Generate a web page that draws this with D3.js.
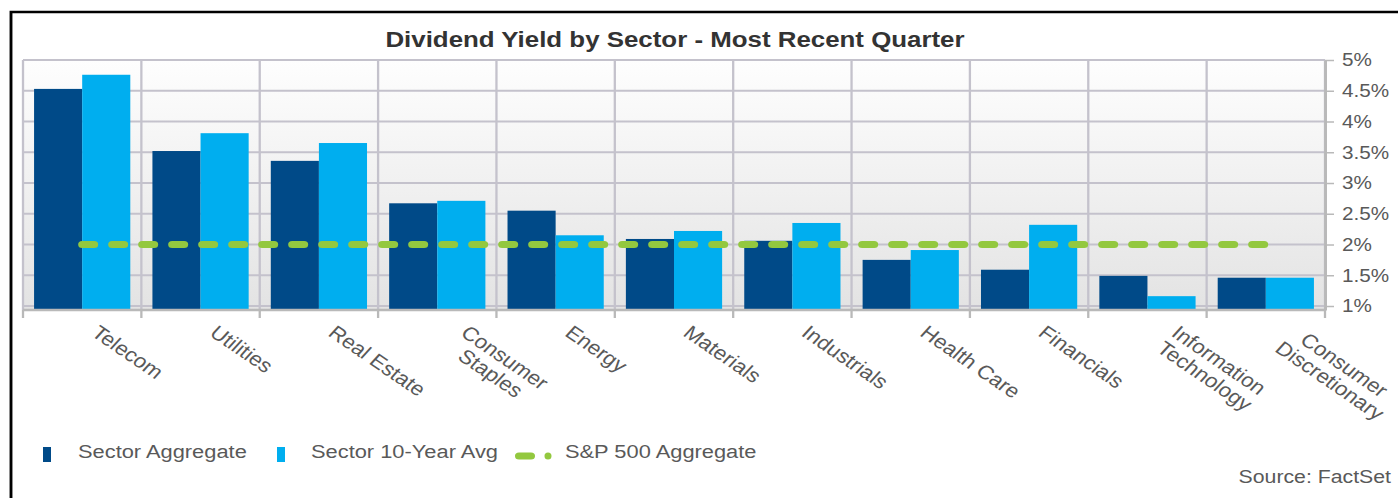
<!DOCTYPE html>
<html>
<head>
<meta charset="utf-8">
<script src="https://cdn.jsdelivr.net/npm/d3@7/dist/d3.min.js"></script>
<style>
  body { margin: 0; background: #fff; }
  svg { display: block; }
  text { font-family: "Liberation Sans", Arial, sans-serif; }
</style>
</head>
<body>
<div id="chart"></div>
<script>
// - data
const sectors = ['Telecom', 'Utilities', 'Real Estate', 'Consumer\nStaples', 'Energy', 'Materials',
  'Industrials', 'Health Care', 'Financials', 'Information\nTechnology', 'Consumer\nDiscretionary']
const sectorAggregate = [4.53, 3.52, 3.36, 2.67, 2.55, 2.09, 2.06, 1.75, 1.59, 1.49, 1.46]
const tenYearAvg = [4.76, 3.81, 3.65, 2.71, 2.15, 2.22, 2.35, 1.91, 2.32, 1.16, 1.46]
const sp500Aggregate = 2.0
const yTicks = [1, 1.5, 2, 2.5, 3, 3.5, 4, 4.5, 5]
const seriesNames = ['Sector Aggregate', 'Sector 10-Year Avg', 'S&P 500 Aggregate']

const colors = { agg: '#004a88', avg: '#00aeef', sp: '#93c83f', grid: '#c4c2cc', axis: '#b9b9b9', text: '#595959' }

// the original picture is stretched sideways, so draw in a narrower space and stretch it back
const sx = 1.15
const W = 1398, H = 498
const Wd = W / sx
const px = v => v / sx

const plot = { left: px(23), right: px(1325), top: 60, bottom: 310 }

const svg = d3.select('#chart')
  .append('svg')
  .attr('width', W)
  .attr('height', H)
  .attr('viewBox', `0 0 ${Wd} ${H}`)
  .attr('preserveAspectRatio', 'none')

const defs = svg.append('defs')
const grad = defs.append('linearGradient').attr('id', 'bg').attr('x1', 0).attr('y1', 0).attr('x2', 0).attr('y2', 1)
grad.append('stop').attr('offset', '0%').attr('stop-color', '#fefefe')
grad.append('stop').attr('offset', '100%').attr('stop-color', '#e3e3e3')

// outer frame
svg.append('rect')
  .attr('x', px(11)).attr('y', 12)
  .attr('width', Wd).attr('height', H)
  .attr('fill', 'none').attr('stroke', '#000').attr('stroke-width', 2.5)

// title
svg.append('text')
  .attr('x', px(675)).attr('y', 47)
  .attr('text-anchor', 'middle')
  .attr('font-size', 22.5).attr('font-weight', 'bold').attr('fill', '#333')
  .text('Dividend Yield by Sector - Most Recent Quarter')

// - scales
const x0 = d3.scaleBand().domain(sectors).range([plot.left, plot.right]).padding(0)
const x1 = d3.scaleBand().domain(['agg', 'avg']).range([0, x0.bandwidth()]).paddingInner(0).paddingOuter(0.23)
const y = d3.scaleLinear().domain([0.935, 5]).range([plot.bottom, plot.top])

// background + grid
svg.append('rect')
  .attr('x', plot.left).attr('y', plot.top)
  .attr('width', plot.right - plot.left).attr('height', plot.bottom - plot.top)
  .attr('fill', 'url(#bg)')

const bounds = d3.range(sectors.length + 1).map(i => plot.left + i * x0.step())

const grid = svg.append('g')
grid.selectAll('line.h').data(yTicks).join('line')
  .attr('class', 'h')
  .attr('x1', plot.left).attr('x2', plot.right)
  .attr('y1', d => y(d)).attr('y2', d => y(d))
  .attr('stroke', colors.grid).attr('stroke-width', 2)
grid.selectAll('line.v').data(bounds).join('line')
  .attr('class', 'v')
  .attr('x1', d => d).attr('x2', d => d)
  .attr('y1', plot.top).attr('y2', plot.bottom)
  .attr('stroke', colors.grid).attr('stroke-width', 2)

// - bars
const rows = sectors.map((s, i) => ({ sector: s, agg: sectorAggregate[i], avg: tenYearAvg[i] }))
const groups = svg.append('g').selectAll('g').data(rows).join('g')
  .attr('transform', d => `translate(${x0(d.sector)},0)`)
groups.selectAll('rect')
  .data(d => ['agg', 'avg'].map(k => ({ key: k, value: d[k] })))
  .join('rect')
  .attr('x', d => x1(d.key))
  .attr('width', x1.bandwidth())
  .attr('y', d => y(d.value))
  .attr('height', d => y.range()[0] - y(d.value))
  .attr('fill', d => colors[d.key])

// - S&P 500 dashed line
const spLine = d3.line()
  .x(d => x0(d) + x0.bandwidth() / 2)
  .y(() => y(sp500Aggregate))
svg.append('path')
  .attr('d', spLine([sectors[0], sectors[sectors.length - 1]]))
  .attr('fill', 'none')
  .attr('stroke', colors.sp).attr('stroke-width', 7)
  .attr('stroke-linecap', 'round')
  .attr('stroke-dasharray', `${px(12)} ${px(18)}`)

// - bottom axis
const bottom = svg.append('g')
bottom.append('line')
  .attr('x1', plot.left).attr('x2', plot.right)
  .attr('y1', plot.bottom).attr('y2', plot.bottom)
  .attr('stroke', colors.axis).attr('stroke-width', 2.5)
bottom.selectAll('line.tick').data(bounds).join('line')
  .attr('class', 'tick')
  .attr('x1', d => d).attr('x2', d => d)
  .attr('y1', plot.bottom).attr('y2', plot.bottom + 8)
  .attr('stroke', colors.axis).attr('stroke-width', 2)

// - right axis
const yAxis = d3.axisRight(y)
  .tickValues(yTicks)
  .tickSize(px(9))
  .tickSizeOuter(0)
  .tickPadding(px(8))
  .tickFormat(d => d + '%')
const yAxisG = svg.append('g')
  .attr('transform', `translate(${plot.right},0)`)
  .call(yAxis)
yAxisG.select('.domain').attr('stroke', colors.axis).attr('stroke-width', 2.5)
yAxisG.selectAll('.tick line').attr('stroke', colors.axis).attr('stroke-width', 1.5)
yAxisG.selectAll('.tick text')
  .attr('font-size', 18).attr('font-family', '"Liberation Sans", Arial, sans-serif')
  .attr('fill', colors.text)

// - rotated category labels
const angle = 38.2
const rad = angle * Math.PI / 180
const fs = 19.5, lh = 20, capH = fs * 0.716
svg.append('g').selectAll('g').data(sectors).join('g')
  .each(function (d) {
    const lines = d.split('\n')
    const g = d3.select(this)
    const t = g.selectAll('text').data(lines).join('text')
      .attr('y', (l, i) => capH + i * lh)
      .attr('font-size', fs)
      .attr('fill', colors.text)
      .attr('text-anchor', 'middle')
      .text(l => l)
    const wMax = d3.max(t.nodes(), n => n.getComputedTextLength())
    t.attr('x', wMax / 2)
    const blockH = capH + (lines.length - 1) * lh
    const xd = x0(d) + x0.bandwidth() / 2 + px(8) + blockH * Math.sin(rad)
    g.attr('transform', `translate(${xd},324) rotate(${angle})`)
  })

// - legend
const legend = svg.append('g')
const legendY = 451
legend.append('rect').attr('x', px(43)).attr('y', legendY - 4).attr('width', px(8)).attr('height', 15).attr('fill', colors.agg)
legend.append('rect').attr('x', px(277)).attr('y', legendY - 4).attr('width', px(8)).attr('height', 15).attr('fill', colors.avg)
legend.append('line')
  .attr('x1', px(519)).attr('x2', px(531)).attr('y1', legendY + 5).attr('y2', legendY + 5)
  .attr('stroke', colors.sp).attr('stroke-width', 7).attr('stroke-linecap', 'round')
legend.append('ellipse')
  .attr('cx', px(548)).attr('cy', legendY + 5).attr('rx', px(3.5)).attr('ry', 3.5)
  .attr('fill', colors.sp)
legend.selectAll('text').data(seriesNames).join('text')
  .attr('x', (d, i) => px([78, 311, 565][i]))
  .attr('y', legendY + 7)
  .attr('font-size', 19)
  .attr('fill', colors.text)
  .text(d => d)

// source note
svg.append('text')
  .attr('x', px(1391)).attr('y', 483)
  .attr('text-anchor', 'end')
  .attr('font-size', 18.5)
  .attr('fill', colors.text)
  .text('Source: FactSet')
</script>
</body>
</html>
